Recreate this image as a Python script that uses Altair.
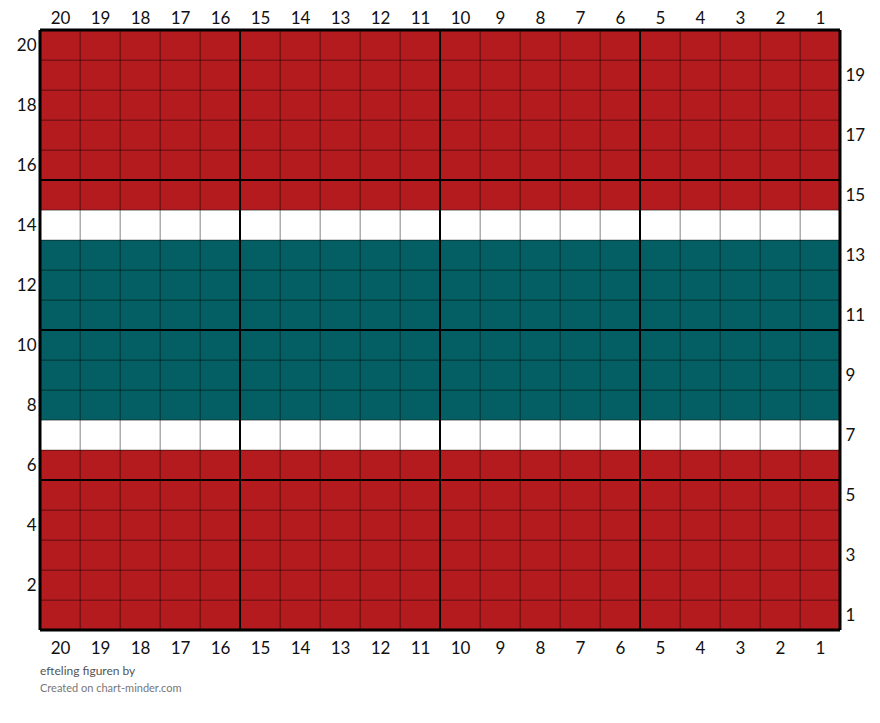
import altair as alt
import pandas as pd

columns = list(range(1, 21))
rows = list(range(1, 21))
row_colors = ["red", "red", "red", "red", "red", "red", "white",
              "teal", "teal", "teal", "teal", "teal", "teal", "white",
              "red", "red", "red", "red", "red", "red"]
color_names = ["red", "white", "teal"]
color_values = ["#B31B1E", "#FFFFFF", "#035F63"]
x_label_pos = [i + 0.5 for i in range(20)]
left_label_pos = [1.5, 3.5, 5.5, 7.5, 9.5, 11.5, 13.5, 15.5, 17.5, 19.5]
right_label_pos = [0.5, 2.5, 4.5, 6.5, 8.5, 10.5, 12.5, 14.5, 16.5, 18.5]
inner_lines = [5, 10, 15]
outer_lines = [0, 20]

cells = pd.DataFrame([{"col": c, "row": r, "colour": row_colors[r - 1]}
                      for r in rows for c in columns])
inner = pd.DataFrame({"v": inner_lines})
outer = pd.DataFrame({"v": outer_lines})

xscale = alt.Scale(domain=[0, 20], nice=False, zero=False)
yscale = alt.Scale(domain=[0, 20], nice=False, zero=False)

axis_style = dict(domain=False, ticks=False, grid=False, labelFont="Lato",
                  labelFontSize=17, labelColor="#111", title=None)

rects = alt.Chart(cells).transform_calculate(
    x0="20 - datum.col", x1="21 - datum.col",
    y0="datum.row - 1", y1="datum.row"
).mark_rect(stroke="#000", strokeOpacity=0.35, strokeWidth=1).encode(
    x=alt.X("x0:Q", scale=xscale,
            axis=alt.Axis(orient="bottom", values=x_label_pos,
                          labelExpr="format(20.5 - datum.value, 'd')",
                          labelPadding=10, **axis_style)),
    x2="x1:Q",
    y=alt.Y("y0:Q", scale=yscale,
            axis=alt.Axis(orient="left", values=left_label_pos,
                          labelExpr="format(datum.value + 0.5, 'd')",
                          labelPadding=4, **axis_style)),
    y2="y1:Q",
    color=alt.Color("colour:N", scale=alt.Scale(domain=color_names, range=color_values),
                    legend=None),
)

vrules = alt.Chart(inner).mark_rule(color="#000", strokeWidth=2).encode(
    x=alt.X("v:Q", scale=xscale,
            axis=alt.Axis(orient="top", values=x_label_pos,
                          labelExpr="format(20.5 - datum.value, 'd')",
                          labelPadding=3, **axis_style)),
)

hrules = alt.Chart(inner).mark_rule(color="#000", strokeWidth=2).encode(
    y=alt.Y("v:Q", scale=yscale,
            axis=alt.Axis(orient="right", values=right_label_pos,
                          labelExpr="format(datum.value + 0.5, 'd')",
                          labelPadding=5, **axis_style)),
)

vouter = alt.Chart(outer).mark_rule(color="#000", strokeWidth=3).encode(
    x=alt.X("v:Q", scale=xscale, axis=None))
houter = alt.Chart(outer).mark_rule(color="#000", strokeWidth=3).encode(
    y=alt.Y("v:Q", scale=yscale, axis=None))

chart = alt.layer(rects, vrules, hrules, vouter, houter).resolve_axis(
    x="independent", y="independent"
).properties(
    width=800, height=600,
    autosize=alt.AutoSizeParams(type="none"),
    padding={"left": 32, "top": 22, "right": 32, "bottom": 85},
    title=alt.TitleParams(
        text="efteling figuren by",
        subtitle="Created on chart-minder.com",
        orient="bottom", anchor="start", frame="group",
        font="Lato", fontSize=12, fontWeight="normal", color="#555",
        subtitleFont="Lato", subtitleFontSize=11, subtitleColor="#777",
        offset=10, subtitlePadding=5,
    ),
).configure_view(stroke=None)

chart.save("out.html", embed_options={"renderer": "svg", "actions": False})
